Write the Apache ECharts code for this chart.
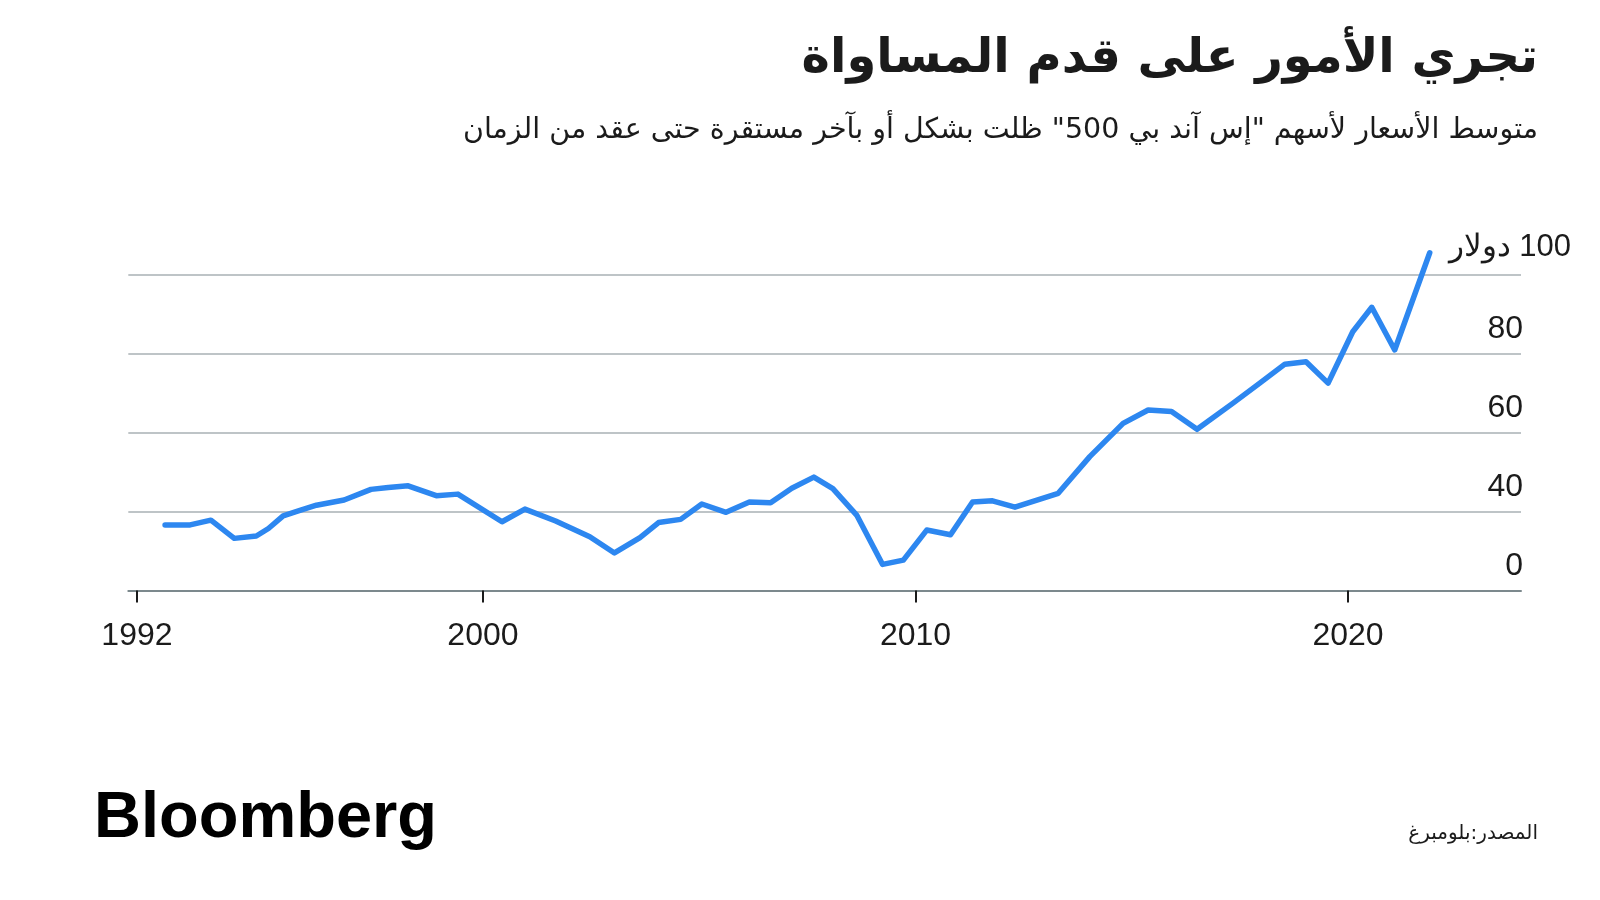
<!DOCTYPE html>
<html>
<head>
<meta charset="utf-8">
<script src="https://cdn.jsdelivr.net/npm/echarts@6/dist/echarts.min.js"></script>
<style>
html,body{margin:0;padding:0;background:#ffffff;}
#c{width:1600px;height:900px;}
</style>
</head>
<body>
<div id="c" dir="rtl"></div>
<script>
// ---- text ----
const titleText = 'تجري الأمور على قدم المساواة';
const subtitleText = 'متوسط الأسعار لأسهم "إس آند بي 500" ظلت بشكل أو بآخر مستقرة حتى عقد من الزمان';
const sourceText = 'المصدر:بلومبرغ';
const logoText = 'Bloomberg';

// ---- data (decimal year, average price in $) ----
const years = [1992.65, 1993.23, 1993.71, 1994.25, 1994.76, 1995.04, 1995.38, 1995.75, 1996.15, 1996.79,
  1997.41, 1997.81, 1998.27, 1998.92, 1999.42, 2000.44, 2000.97, 2001.68, 2002.47, 2003.04,
  2003.63, 2004.06, 2004.57, 2005.06, 2005.62, 2006.16, 2006.65, 2007.14, 2007.65, 2008.09,
  2008.64, 2009.24, 2009.72, 2010.26, 2010.81, 2011.32, 2011.78, 2012.30, 2013.30, 2014.03,
  2014.80, 2015.38, 2015.92, 2016.51, 2017.35, 2017.96, 2018.54, 2019.03, 2019.54, 2020.11,
  2020.55, 2021.08, 2021.89];
const prices = [36.6, 36.6, 37.8, 33.2, 33.8, 35.7, 38.9, 40.2, 41.6, 42.9,
  45.6, 46.1, 46.5, 44.0, 44.4, 37.4, 40.6, 37.6, 33.6, 29.5,
  33.4, 37.2, 38.0, 41.9, 39.8, 42.4, 42.2, 45.9, 48.7, 45.8,
  39.1, 26.6, 27.7, 35.3, 34.1, 42.4, 42.7, 41.1, 44.6, 53.9,
  62.3, 65.7, 65.3, 60.8, 67.5, 72.5, 77.3, 77.9, 72.5, 85.5,
  91.7, 80.9, 105.5];

// ---- ticks ----
const xTickValues = [1992, 2000, 2010, 2020];
const yTickValues = [20, 40, 60, 80, 100];
const yTickLabels = ['0', '40', '60', '80', '100 دولار'];

const NUM_FONT = '"Liberation Sans", Arial, sans-serif';
const AR_FONT = '"DejaVu Sans", sans-serif';
const INK = '#1b1b1b';

const chart = echarts.init(document.getElementById('c'), null, { renderer: 'canvas' });

const option = {
  backgroundColor: '#ffffff',
  animation: false,
  grid: { left: 128.3, right: 79, top: 274.5, bottom: 309.5 },
  xAxis: {
    type: 'value',
    min: 1991.8,
    max: 2024,
    axisLine: { show: true, lineStyle: { color: '#7c898d', width: 2 } },
    axisTick: { show: true, customValues: xTickValues, length: 12, lineStyle: { color: INK, width: 2 } },
    axisLabel: {
      customValues: xTickValues,
      margin: 30,
      fontSize: 32,
      fontFamily: NUM_FONT,
      color: INK,
      formatter: v => String(Math.round(v))
    },
    splitLine: { show: false }
  },
  yAxis: {
    type: 'value',
    position: 'right',
    min: 20,
    max: 100,
    interval: 20,
    axisLine: { show: false },
    axisTick: { show: false },
    splitLine: { show: true, lineStyle: { color: '#a9b1b4', width: 1.5 } },
    axisLabel: {
      inside: true,
      margin: -2,
      align: 'right',
      verticalAlign: 'bottom',
      lineHeight: 32,
      padding: [0, 0, 8, 0],
      fontSize: 32,
      fontFamily: NUM_FONT,
      color: INK,
      formatter: v => {
        const i = yTickValues.indexOf(v);
        if (i < 0 || i === yTickValues.length - 1) return '';
        return yTickLabels[i];
      }
    }
  },
  series: [{
    type: 'line',
    data: years.map((y, i) => [y, prices[i]]),
    symbol: 'none',
    showSymbol: false,
    clip: false,
    lineStyle: { color: '#2d87f0', width: 5.5, cap: 'round', join: 'round' },
    z: 5
  }]
};
chart.setOption(option);

const topY = chart.convertToPixel({ yAxisIndex: 0 }, yTickValues[yTickValues.length - 1]);

chart.setOption({
  graphic: [
    { type: 'text', x: 1538, y: 60, style: { text: titleText, font: 'bold 48px ' + AR_FONT, fill: INK, align: 'right', verticalAlign: 'middle' } },
    { type: 'text', x: 1538, y: 131, style: { text: subtitleText, font: '28.5px ' + AR_FONT, fill: INK, align: 'right', verticalAlign: 'middle' } },
    { type: 'text', x: 1571, y: topY - 27.5, style: { text: yTickLabels[yTickLabels.length - 1], font: '31px ' + NUM_FONT, fill: INK, align: 'right', verticalAlign: 'middle' } },
    { type: 'text', x: 94, y: 819, style: { text: logoText, font: 'bold 65px ' + NUM_FONT, fill: '#000000', align: 'left', verticalAlign: 'middle' } },
    { type: 'text', x: 1538, y: 834, style: { text: sourceText, font: '20px ' + AR_FONT, fill: INK, align: 'right', verticalAlign: 'middle' } }
  ]
});
</script>
</body>
</html>
